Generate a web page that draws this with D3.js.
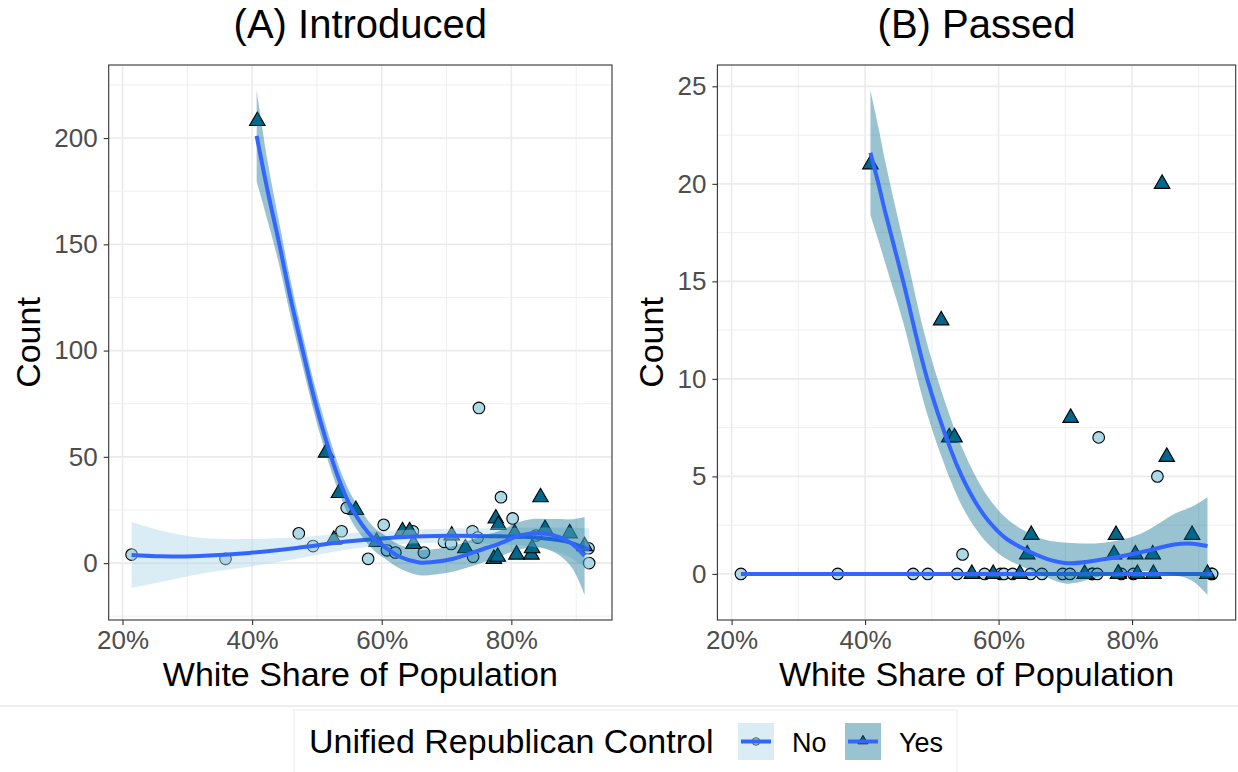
<!DOCTYPE html>
<html>
<head>
<meta charset="utf-8">
<script src="https://cdn.jsdelivr.net/npm/d3@7"></script>
<style>
body { margin: 0; background: #fff; }
text { font-family: "Liberation Sans", Arial, sans-serif; }
</style>
</head>
<body>
<div id="chart"></div>
<script>
// White share of population (%) per state, split by unified Republican control
var noShare = [21.4, 35.9, 47.2, 49.4, 53.8, 54.6, 57.9, 60.3, 60.8, 62.1, 64.8, 66.5, 69.6, 70.7, 74.0, 74.1, 74.8, 75.0, 78.4, 80.2, 83.8, 91.9, 92.0];
var noIntroduced = [4, 2, 14, 8, 15, 26, 2, 18, 6, 5, 15, 5, 10, 9, 15, 3, 12, 73, 31, 21, 13, 7, 0];
var noPassed = [0, 0, 0, 0, 0, 1, 0, 0, 0, 0, 0, 0, 0, 0, 0, 0, 0, 7, 0, 0, 5, 0, 0];

var yesShare = [40.8, 51.4, 52.6, 53.4, 56.0, 59.2, 63.2, 64.3, 64.9, 70.8, 72.9, 77.3, 77.6, 78.0, 77.9, 80.5, 80.8, 83.1, 83.2, 84.5, 85.2, 89.0, 91.3];
var yesIntroduced = [208, 52, 11, 33, 25, 10, 15, 15, 9, 13, 7, 2, 21, 18, 3, 14, 4, 4, 7, 31, 16, 14, 8];
var yesPassed = [21, 13, 7, 7, 0, 0, 0, 1, 2, 8, 0, 1, 2, 0, 0, 1, 0, 1, 0, 20, 6, 2, 0];

// smoothed fits (x, fit, half width of band)
var fitIntroNoX = [21.4, 26, 31.9, 39.6, 47.3, 55, 62.7, 70.4, 78.1, 83.3, 88.4, 92.0];
var fitIntroNoY = [3.8, 3.2, 3.4, 4.8, 7.3, 10.3, 12.2, 12.9, 12.6, 12.2, 10.2, 6.3];
var fitIntroNoSe = [15.5, 12, 8.5, 6.5, 5, 3.8, 3.3, 3.3, 3.8, 4.5, 6.5, 10];

var fitIntroYesX = [40.7, 42.4, 44.2, 45.9, 47.8, 49.8, 52.2, 53.7, 55.5, 58.6, 60.2, 62.7, 65.8, 67.9, 70.9, 73.0, 76.1, 78.1, 81.2, 83.3, 85.3, 87.4, 89.4, 91.3];
var fitIntroYesY = [201, 175, 150, 125, 100, 75, 50, 37, 25, 12, 8.2, 3.1, 0.3, 0.5, 1.9, 3.9, 7.1, 9.1, 12.9, 14.1, 13.8, 12.2, 9.1, 3.4];
var fitIntroYesSe = [21.5, 14, 10, 8.5, 7.5, 7, 6.5, 6, 6, 5.5, 5.5, 5.5, 6, 6, 6, 6.2, 6.2, 6, 6.5, 6.7, 7, 8.5, 11.5, 18.3];

var fitPassNoX = [21.4, 92.0];
var fitPassNoY = [0, 0];
var fitPassNoSe = [0, 0];

var fitPassYesX = [40.8, 42.0, 43.05, 45.7, 49.3, 52.8, 54.5, 56.5, 58.4, 61.0, 63.7, 67, 70.3, 75.7, 81.2, 86.6, 89, 91.3];
var fitPassYesY = [21.6, 20, 18.5, 15, 10, 6.4, 5, 3.7, 2.75, 1.85, 1.3, 0.8, 0.55, 0.75, 1.1, 1.52, 1.55, 1.43];
var fitPassYesSe = [3.2, 2.9, 2.6, 2.1, 1.8, 1.6, 1.5, 1.35, 1.2, 1.05, 0.95, 0.95, 1.05, 0.85, 0.95, 1.6, 1.9, 2.5];

var xTicks = [20, 40, 60, 80];
var xMinor = [30, 50, 70, 90];
var introTicks = [0, 50, 100, 150, 200];
var introMinor = [-25, 25, 75, 125, 175, 225];
var passTicks = [0, 5, 10, 15, 20, 25];
var passMinor = [2.5, 7.5, 12.5, 17.5, 22.5];

var groupLabels = ["No", "Yes"];

var svgWidth = 1238;
var svgHeight = 772;

var noFill = "#ADD8E6";
var yesFill = "#00688B";
var lineColor = "#3366FF";

var svg = d3.select("#chart")
    .append("svg")
    .attr("width", svgWidth)
    .attr("height", svgHeight);

function fitRows(xs, ys, se) {
    return xs.map(function(d, i) {
        return { x: d, y: ys[i], lo: ys[i] - se[i], hi: ys[i] + se[i] };
    });
}

function pointRows(xs, ys) {
    return xs.map(function(d, i) { return { x: d, y: ys[i] }; });
}

// ggplot style 5% expansion
function expand(ext) {
    var pad = (ext[1] - ext[0]) * 0.05;
    return [ext[0] - pad, ext[1] + pad];
}

var xDomain = expand(d3.extent(noShare.concat(yesShare)));

function drawPanel(p) {
    var g = svg.append("g");

    var fits = [fitRows(p.noFitX, p.noFitY, p.noFitSe), fitRows(p.yesFitX, p.yesFitY, p.yesFitSe)];
    var allY = p.noY.concat(p.yesY);
    fits.forEach(function(f) {
        f.forEach(function(r) { allY.push(r.lo, r.hi); });
    });

    var x = d3.scaleLinear().domain(xDomain).range([p.left, p.right]);
    var y = d3.scaleLinear().domain(expand(d3.extent(allY))).range([p.bottom, p.top]);

    // grid
    g.selectAll(".xminor").data(xMinor).enter().append("line")
        .attr("x1", d => x(d)).attr("x2", d => x(d))
        .attr("y1", p.top).attr("y2", p.bottom)
        .attr("stroke", "#EBEBEB").attr("stroke-width", 0.8);
    g.selectAll(".yminor").data(p.yMinor).enter().append("line")
        .attr("y1", d => y(d)).attr("y2", d => y(d))
        .attr("x1", p.left).attr("x2", p.right)
        .attr("stroke", "#EBEBEB").attr("stroke-width", 0.8);
    g.selectAll(".xmajor").data(xTicks).enter().append("line")
        .attr("x1", d => x(d)).attr("x2", d => x(d))
        .attr("y1", p.top).attr("y2", p.bottom)
        .attr("stroke", "#EBEBEB").attr("stroke-width", 1.6);
    g.selectAll(".ymajor").data(p.yTicks).enter().append("line")
        .attr("y1", d => y(d)).attr("y2", d => y(d))
        .attr("x1", p.left).attr("x2", p.right)
        .attr("stroke", "#EBEBEB").attr("stroke-width", 1.6);

    // points
    g.append("g").selectAll("circle")
        .data(pointRows(noShare, p.noY))
        .enter()
        .append("circle")
        .attr("cx", d => x(d.x))
        .attr("cy", d => y(d.y))
        .attr("r", 5.8)
        .attr("fill", noFill)
        .attr("stroke", "#000")
        .attr("stroke-width", 1.1);

    g.append("g").selectAll("path")
        .data(pointRows(yesShare, p.yesY))
        .enter()
        .append("path")
        .attr("d", d3.symbol().type(d3.symbolTriangle).size(105))
        .attr("transform", d => `translate(${x(d.x)}, ${y(d.y)})`)
        .attr("fill", yesFill)
        .attr("stroke", "#000")
        .attr("stroke-width", 1.1);

    // smooth bands + lines
    var area = d3.area()
        .x(d => x(d.x)).y0(d => y(d.lo)).y1(d => y(d.hi))
        .curve(d3.curveCatmullRom.alpha(0.5));
    var line = d3.line()
        .x(d => x(d.x)).y(d => y(d.y))
        .curve(d3.curveCatmullRom.alpha(0.5));
    var bandFill = [noFill, yesFill];
    var bandOpacity = [0.45, 0.4];

    fits.forEach(function(f, i) {
        g.append("path").datum(f)
            .attr("d", area)
            .attr("fill", bandFill[i])
            .attr("fill-opacity", bandOpacity[i]);
        g.append("path").datum(f)
            .attr("d", line)
            .attr("fill", "none")
            .attr("stroke", lineColor)
            .attr("stroke-width", 4);
    });

    // border
    g.append("rect")
        .attr("x", p.left).attr("y", p.top)
        .attr("width", p.right - p.left).attr("height", p.bottom - p.top)
        .attr("fill", "none").attr("stroke", "#333").attr("stroke-width", 1.1);

    // axes
    var bottomAxis = d3.axisBottom(x).tickValues(xTicks).tickSize(5).tickPadding(6)
        .tickFormat(d => d + "%");
    var leftAxis = d3.axisLeft(y).tickValues(p.yTicks).tickSize(5).tickPadding(6);

    var xa = g.append("g").attr("transform", `translate(0, ${p.bottom})`).call(bottomAxis);
    var ya = g.append("g").attr("transform", `translate(${p.left}, 0)`).call(leftAxis);
    [xa, ya].forEach(function(a) {
        a.select(".domain").remove();
        a.selectAll("line").attr("stroke", "#333").attr("stroke-width", 1.1);
        a.selectAll("text").attr("fill", "#4D4D4D").style("font-size", "26px")
            .style("font-family", "'Liberation Sans', Arial, sans-serif");
    });

    // titles
    g.append("text")
        .attr("x", (p.left + p.right) / 2).attr("y", 38)
        .attr("text-anchor", "middle")
        .style("font-size", "40px")
        .text(p.title);
    g.append("text")
        .attr("x", (p.left + p.right) / 2).attr("y", 686)
        .attr("text-anchor", "middle")
        .style("font-size", "34px")
        .text("White Share of Population");
    g.append("text")
        .attr("transform", `translate(${p.yTitleX}, ${(p.top + p.bottom) / 2}) rotate(-90)`)
        .attr("text-anchor", "middle")
        .style("font-size", "34px")
        .text("Count");
}

drawPanel({
    title: "(A) Introduced",
    left: 108.7, right: 612, top: 65, bottom: 620, yTitleX: 40,
    noY: noIntroduced, yesY: yesIntroduced,
    noFitX: fitIntroNoX, noFitY: fitIntroNoY, noFitSe: fitIntroNoSe,
    yesFitX: fitIntroYesX, yesFitY: fitIntroYesY, yesFitSe: fitIntroYesSe,
    yTicks: introTicks, yMinor: introMinor
});

drawPanel({
    title: "(B) Passed",
    left: 717.4, right: 1235.7, top: 65, bottom: 620, yTitleX: 663,
    noY: noPassed, yesY: yesPassed,
    noFitX: fitPassNoX, noFitY: fitPassNoY, noFitSe: fitPassNoSe,
    yesFitX: fitPassYesX, yesFitY: fitPassYesY, yesFitSe: fitPassYesSe,
    yTicks: passTicks, yMinor: passMinor
});

// legend
svg.append("line")
    .attr("x1", 0).attr("x2", svgWidth).attr("y1", 706).attr("y2", 706)
    .attr("stroke", "#DDDDDD").attr("stroke-width", 1);
svg.append("rect")
    .attr("x", 294).attr("y", 710).attr("width", 663).attr("height", 80)
    .attr("fill", "#fff").attr("stroke", "#EBEBEB").attr("stroke-width", 1);

var legend = svg.append("g");
legend.append("text")
    .attr("x", 309).attr("y", 753)
    .style("font-size", "34px")
    .text("Unified Republican Control");

var keyX = [738, 845];
var labelX = [792, 899];
groupLabels.forEach(function(lab, i) {
    var k = legend.append("g").attr("transform", `translate(${keyX[i]}, 723)`);
    k.append("rect").attr("width", 36).attr("height", 37)
        .attr("fill", i === 0 ? noFill : yesFill)
        .attr("fill-opacity", i === 0 ? 0.45 : 0.4);
    if (i === 0) {
        k.append("circle").attr("cx", 18).attr("cy", 18.5).attr("r", 3.8)
            .attr("fill", noFill).attr("stroke", "#555").attr("stroke-width", 1);
    } else {
        k.append("path").attr("d", d3.symbol().type(d3.symbolTriangle).size(42))
            .attr("transform", "translate(18, 18)")
            .attr("fill", yesFill).attr("stroke", "#000").attr("stroke-width", 0.8);
    }
    k.append("line").attr("x1", 3).attr("x2", 33).attr("y1", 18.5).attr("y2", 18.5)
        .attr("stroke", lineColor).attr("stroke-width", 4);
    legend.append("text")
        .attr("x", labelX[i]).attr("y", 752)
        .style("font-size", "27px")
        .text(lab);
});
</script>
</body>
</html>
